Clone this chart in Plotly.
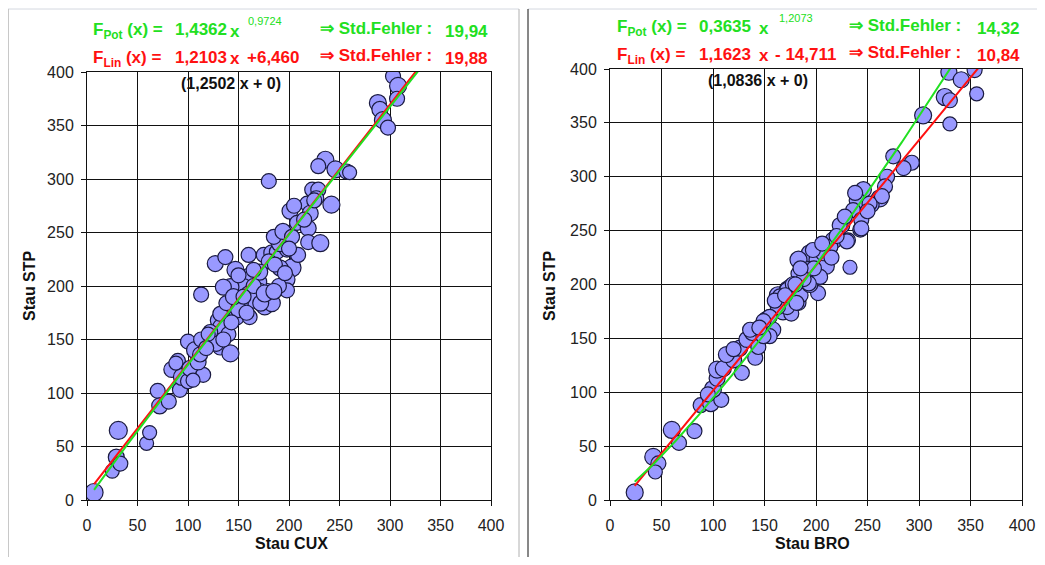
import plotly.graph_objects as go
import numpy as np

# ---------------- data ----------------
cux_x = [7, 25, 29, 31, 33, 59, 62, 70, 72, 81, 84, 90, 92, 94, 100, 102, 115, 100, 107, 110,
         113, 125, 132, 142, 130, 138, 132, 122, 112, 105, 113, 132, 148, 161, 176, 178, 183, 170, 160, 155,
         142, 135, 147, 127, 137, 160, 175, 183, 188, 198, 191, 185, 194, 203, 208, 203, 191, 198, 198, 180,
         171, 186, 161, 171, 166, 152, 138, 180, 236, 229, 246, 257, 260, 223, 229, 227, 242, 218, 201, 221,
         208, 219, 219, 231, 209, 303, 308, 307, 288, 290, 293, 298, 128, 140, 150, 158, 145, 165, 172, 190,
         176, 185, 120, 150, 165, 200, 196, 205, 215, 88, 118, 135, 225, 143, 155]
cux_y = [7, 27, 40, 65, 34, 53, 63, 102, 88, 92, 122, 130, 103, 115, 111, 123, 117, 148, 140, 129,
         150, 151, 143, 137, 168, 173, 162, 157, 136, 112, 192, 174, 171, 171, 181, 195, 184, 204, 209, 199,
         199, 199, 215, 221, 227, 229, 229, 231, 232, 234, 240, 246, 251, 246, 229, 217, 217, 206, 196, 223,
         213, 220, 192, 195, 187, 185, 184, 298, 318, 312, 309, 307, 306, 290, 290, 282, 276, 277, 270, 268,
         259, 254, 241, 240, 229, 396, 387, 375, 371, 365, 355, 348, 146, 155, 178, 175, 190, 200, 184, 200,
         193, 195, 155, 210, 215, 235, 212, 275, 262, 128, 142, 150, 280, 166, 190]
cux_s = [18, 14, 16, 18, 15, 14, 14, 15, 16, 15, 16, 15, 15, 17, 15, 16, 15, 15, 17, 16,
         15, 17, 16, 17, 16, 15, 15, 15, 15, 14, 15, 15, 16, 15, 17, 16, 17, 16, 16, 17,
         17, 16, 17, 16, 15, 15, 15, 16, 15, 15, 17, 15, 16, 15, 15, 18, 16, 16, 15, 15,
         16, 15, 18, 16, 17, 16, 15, 15, 17, 15, 17, 15, 14, 15, 15, 15, 17, 15, 16, 16,
         15, 16, 15, 17, 15, 15, 17, 15, 17, 16, 17, 15, 15, 15, 16, 15, 16, 15, 16, 15,
         17, 16, 14, 15, 15, 15, 15, 15, 15, 14, 15, 15, 15, 15, 15]

bro_x = [24, 42, 47, 44, 60, 67, 82, 88, 98, 108, 100, 104, 104, 110, 120, 128, 113, 126, 141, 133,
         138, 144, 152, 158, 155, 149, 163, 173, 168, 176, 183, 185, 202, 194, 172, 275, 269, 246, 240, 262,
         254, 236, 244, 225, 243, 231, 217, 214, 194, 183, 201, 210, 193, 183, 204, 233, 175, 172, 165, 181,
         163, 155, 149, 136, 193, 304, 293, 285, 267, 264, 252, 223, 244, 230, 207, 197, 329, 341, 354, 356,
         325, 330, 330, 178, 188, 198, 215, 220, 160, 170, 185, 206, 228, 250, 238, 120, 145, 95, 180]
bro_y = [7, 40, 34, 26, 65, 53, 64, 88, 90, 93, 103, 113, 121, 122, 130, 118, 135, 141, 132, 149,
         155, 142, 167, 158, 152, 152, 190, 195, 175, 173, 183, 190, 192, 200, 179, 319, 300, 288, 278, 280,
         274, 269, 260, 255, 251, 241, 241, 235, 229, 223, 223, 217, 214, 210, 207, 216, 198, 195, 189, 183,
         179, 170, 166, 158, 201, 357, 313, 308, 291, 282, 275, 255, 252, 240, 229, 232, 397, 390, 399, 377,
         374, 371, 349, 200, 205, 215, 225, 245, 185, 190, 215, 238, 263, 268, 285, 140, 160, 98, 200]
bro_s = [17, 17, 15, 14, 17, 15, 15, 15, 17, 15, 17, 16, 17, 16, 16, 15, 16, 16, 15, 16,
         15, 15, 17, 16, 15, 15, 17, 18, 17, 15, 15, 15, 15, 16, 15, 15, 15, 16, 16, 17,
         15, 15, 15, 16, 15, 15, 17, 15, 17, 17, 16, 16, 16, 15, 15, 14, 15, 15, 15, 15,
         15, 15, 15, 15, 15, 17, 15, 15, 15, 15, 15, 15, 15, 15, 15, 15, 16, 16, 15, 14,
         17, 15, 14, 16, 15, 15, 15, 15, 15, 15, 15, 15, 15, 15, 15, 15, 15, 15, 15]

# fit parameters shown in the chart
cux_pot = (1.4362, 0.9724)
cux_lin = (1.2103, 6.460)
bro_pot = (0.3635, 1.2073)
bro_lin = (1.1623, -14.711)

ticks = [0, 50, 100, 150, 200, 250, 300, 350, 400]

# ---------------- figure ----------------
# the page body has an 8px margin, so the figure is laid out 8px smaller/shifted
OFF = 8
W, H = 1029, 549
def px(x): return (x - OFF) / W
def py(y): return 1 - (y - OFF) / H

GREEN = "#22e022"
RED = "#ff1111"
FONT = "Liberation Sans, Arial, sans-serif"

fig = go.Figure()

def add_panel(xs, ys, ss, pot, lin, xa, ya):
    xl = np.linspace(min(xs), 400, 300)
    fig.add_trace(go.Scatter(x=xs, y=ys, mode="markers", xaxis=xa, yaxis=ya,
                             marker=dict(size=ss, color="#9999ff", opacity=1,
                                         line=dict(color="#1a1a40", width=1.2)),
                             showlegend=False, hoverinfo="x+y"))
    fig.add_trace(go.Scatter(x=xl, y=lin[0] * xl + lin[1], mode="lines", xaxis=xa, yaxis=ya,
                             line=dict(color=RED, width=2), showlegend=False))
    fig.add_trace(go.Scatter(x=xl, y=pot[0] * xl ** pot[1], mode="lines", xaxis=xa, yaxis=ya,
                             line=dict(color=GREEN, width=2), showlegend=False))

add_panel(cux_x, cux_y, cux_s, cux_pot, cux_lin, "x", "y")
add_panel(bro_x, bro_y, bro_s, bro_pot, bro_lin, "x2", "y2")

axis_common = dict(range=[0, 400], tickvals=ticks, showgrid=True, gridcolor="#111111",
                   gridwidth=1, zeroline=False, showline=True, linecolor="#111111",
                   linewidth=1, mirror=True, ticks="outside", ticklen=5, automargin=False,
                   tickcolor="#111111", tickfont=dict(family=FONT, size=16, color="#222222"))

fig.update_layout(
    width=W, height=H, margin=dict(l=0, r=0, t=0, b=0, pad=0, autoexpand=False),
    paper_bgcolor="white", plot_bgcolor="white",
    xaxis=dict(domain=[px(87), px(491)], anchor="y", ticklabelstandoff=6, **axis_common),
    yaxis=dict(domain=[py(500), py(72)], anchor="x", ticklabelstandoff=4, **axis_common),
    xaxis2=dict(domain=[px(610), px(1022)], anchor="y2", ticklabelstandoff=6, **axis_common),
    yaxis2=dict(domain=[py(500), py(69)], anchor="x2", ticklabelstandoff=4, **axis_common),
)

ann = []
def t(text, x, y, color, size=17, bold=True, xanchor="left", angle=0):
    ann.append(dict(text=("<b>%s</b>" % text) if bold else text, x=px(x), y=py(y),
                    xref="paper", yref="paper", xanchor=xanchor, yanchor="middle",
                    showarrow=False, textangle=angle,
                    font=dict(family=FONT, size=size, color=color)))

# left header
t("F<sub>Pot</sub> (x) =", 91, 31, GREEN)
t("1,4362", 173, 30, GREEN)
t("x", 228, 31, GREEN)
t("0,9724", 246, 21, GREEN, size=11, bold=False)
t("⇒ Std.Fehler :", 318, 28, GREEN)
t("19,94", 443, 31, GREEN)
t("F<sub>Lin</sub> (x) =", 91, 59, RED)
t("1,2103", 173, 58, RED)
t("x", 228, 59, RED)
t("+6,460", 245, 58, RED)
t("⇒ Std.Fehler :", 318, 56, RED)
t("19,88", 443, 59, RED)
t("(1,2502 x + 0)", 231, 83, "#111111", size=16, xanchor="center")
t("Stau CUX", 291, 543, "#111111", size=16, xanchor="center")
t("Stau STP", 29, 286, "#111111", size=16, xanchor="center", angle=-90)

# right header
t("F<sub>Pot</sub> (x) =", 615, 28, GREEN)
t("0,3635", 697, 27, GREEN)
t("x", 757, 28, GREEN)
t("1,2073", 777, 18, GREEN, size=11, bold=False)
t("⇒ Std.Fehler :", 847, 25, GREEN)
t("14,32", 975, 28, GREEN)
t("F<sub>Lin</sub> (x) =", 615, 56, RED)
t("1,1623", 697, 55, RED)
t("x", 757, 56, RED)
t("- 14,711", 773, 55, RED)
t("⇒ Std.Fehler :", 847, 53, RED)
t("10,84", 975, 56, RED)
t("(1,0836 x + 0)", 758, 80, "#111111", size=16, xanchor="center")
t("Stau BRO", 812, 543, "#111111", size=16, xanchor="center")
t("Stau STP", 549, 286, "#111111", size=16, xanchor="center", angle=-90)

fig.update_layout(annotations=ann)

shapes = [
    dict(type="line", xref="paper", yref="paper", x0=px(8), x1=px(519), y0=py(9), y1=py(9),
         line=dict(color="#d4d8e0", width=1)),
    dict(type="line", xref="paper", yref="paper", x0=px(8.5), x1=px(8.5), y0=py(9), y1=0,
         line=dict(color="#c8c8c8", width=1)),
    dict(type="line", xref="paper", yref="paper", x0=px(519), x1=px(519), y0=py(9), y1=0,
         line=dict(color="#b0b0b0", width=1)),
    dict(type="line", xref="paper", yref="paper", x0=px(528), x1=1, y0=py(9), y1=py(9),
         line=dict(color="#d4d8e0", width=1)),
    dict(type="line", xref="paper", yref="paper", x0=px(528), x1=px(528), y0=py(9), y1=0,
         line=dict(color="#111111", width=1)),
]
fig.update_layout(shapes=shapes)

fig.write_html("out.html")
